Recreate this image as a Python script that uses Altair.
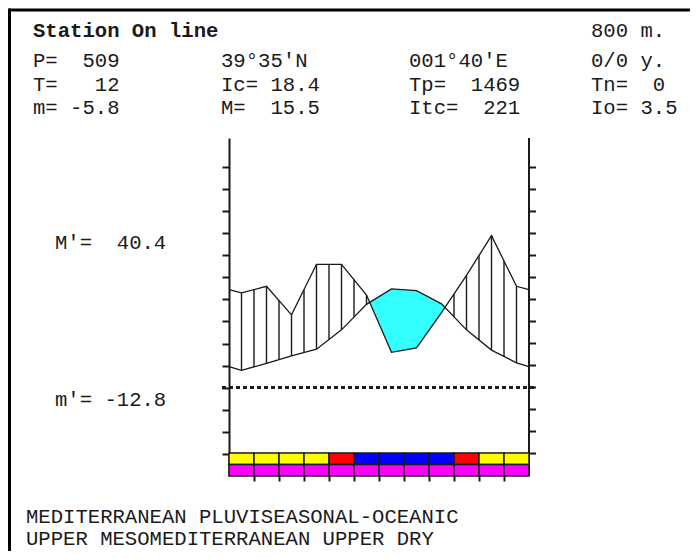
import altair as alt
import pandas as pd

# ---------------- data ----------------
months = ["Jan", "Feb", "Mar", "Apr", "May", "Jun", "Jul", "Aug", "Sep", "Oct", "Nov", "Dec"]
temp_c = [3.9, 5.5, 7.2, 8.7, 13.1, 18.9, 22.4, 22.0, 19.0, 13.1, 8.5, 5.6]
precip_mm = [43, 46, 33, 56, 56, 42, 16, 18, 34, 51, 69, 46]
upper_band = ["Y", "Y", "Y", "Y", "R", "B", "B", "B", "B", "R", "Y", "Y"]
lower_band = ["M"] * 12
band_classes = ["Y", "R", "B", "M"]
tick_values = list(range(-15, 55, 5))
month_edges = list(range(1, 12))

title_text = "Station On line"
header_rows = [
    ["", "", "", "800 m."],
    ["P=  509", "39°35'N", "001°40'E", "0/0 y."],
    ["T=   12", "Ic= 18.4", "Tp=  1469", "Tn=  0"],
    ["m= -5.8", "M=  15.5", "Itc=  221", "Io= 3.5"],
]
side_labels = ["M'=  40.4", "m'= -12.8"]
footer_lines = ["MEDITERRANEAN PLUVISEASONAL-OCEANIC", "UPPER MESOMEDITERRANEAN UPPER DRY"]

# ---------------- derived tables ----------------
p_half = [p / 2 for p in precip_mm]
edge_t = (temp_c[-1] + temp_c[0]) / 2
edge_p = (p_half[-1] + p_half[0]) / 2
cx = [0.0] + [i + 0.5 for i in range(12)] + [12.0]
ct = [edge_t] + temp_c + [edge_t]
cp = [edge_p] + p_half + [edge_p]
curves = pd.DataFrame({"x": cx, "T": ct, "P": cp})

# half-month hatch lines in the humid period
hatch = []
for k in range(1, 24):
    xv = k / 2
    if k % 2 == 1:
        i = (k - 1) // 2
        tv, pv = temp_c[i], p_half[i]
    else:
        i = k // 2
        tv = (temp_c[i - 1] + temp_c[i]) / 2
        pv = (p_half[i - 1] + p_half[i]) / 2
    if pv > tv:
        hatch.append({"x": xv, "T": tv, "P": pv})
hatch = pd.DataFrame(hatch)

# dry period polygon(s)
dry = []
seg = 0
inside = False
for j in range(len(cx)):
    d = cp[j] - ct[j]
    if j > 0:
        d0 = cp[j - 1] - ct[j - 1]
        if (d0 >= 0) != (d >= 0):
            t = d0 / (d0 - d)
            xc = cx[j - 1] + t * (cx[j] - cx[j - 1])
            yc = ct[j - 1] + t * (ct[j] - ct[j - 1])
            dry.append({"x": xc, "T": yc, "P": yc, "seg": seg})
            if inside:
                seg += 1
            inside = not inside
    if d < 0:
        dry.append({"x": cx[j], "T": ct[j], "P": cp[j], "seg": seg})
dry = pd.DataFrame(dry)

bands = pd.DataFrame({
    "x0": list(range(12)),
    "x1": list(range(1, 13)),
    "up": upper_band,
    "low": lower_band,
})
ticks = pd.DataFrame({"v": tick_values})

# ---------------- scales / axes ----------------
xs = alt.Scale(domain=[0, 12], nice=False, zero=False)
ys = alt.Scale(domain=[-20.11, 56.7], nice=False, zero=False)
ink = "#1a1a1a"
xaxis = alt.Axis(values=month_edges, labels=False, title=None, grid=False, domain=False,
                 tickSize=5, tickWidth=2, tickColor=ink, orient="bottom")
yaxis = alt.Axis(values=tick_values, labels=False, title=None, grid=False, domain=True,
                 domainColor=ink, domainWidth=2, tickSize=7, tickWidth=2, tickColor=ink,
                 orient="left")
band_scale = alt.Scale(domain=band_classes, range=["#ffff00", "#ff0000", "#0000ff", "#ff00ff"])

X = lambda f: alt.X(f, type="quantitative", scale=xs, axis=xaxis)
Y = lambda f: alt.Y(f, type="quantitative", scale=ys, axis=yaxis)

area = alt.Chart(dry).mark_area(color="#33ffff", opacity=1).encode(
    x=X("x"), y=Y("T"), y2="P", detail="seg:N"
)
hatch_l = alt.Chart(hatch).mark_rule(color=ink, strokeWidth=1.4).encode(
    x=X("x"), y=Y("T"), y2="P"
)
t_line = alt.Chart(curves).mark_line(color=ink, strokeWidth=1.3).encode(x=X("x"), y=Y("T"))
p_line = alt.Chart(curves).mark_line(color=ink, strokeWidth=1.3).encode(x=X("x"), y=Y("P"))

zero = alt.Chart(ticks).mark_rule(color=ink, strokeWidth=1.5, strokeDash=[4, 3]).encode(
    y=alt.Y(datum=0, scale=ys, axis=yaxis), x=alt.value(-7), x2=alt.value(307)
)
right_dom = alt.Chart(ticks).mark_rule(color=ink, strokeWidth=2).encode(
    x=alt.value(300), y=alt.value(0), y2=alt.value(338)
)
right_ticks = alt.Chart(ticks).mark_rule(color=ink, strokeWidth=2).encode(
    y=Y("v"), x=alt.value(300), x2=alt.value(307)
)
band_up = alt.Chart(bands).mark_rect(stroke=ink, strokeWidth=1.5).encode(
    x=X("x0"), x2="x1", y=alt.value(315), y2=alt.value(326.5),
    color=alt.Color("up:N", scale=band_scale, legend=None)
)
band_low = alt.Chart(bands).mark_rect(stroke=ink, strokeWidth=1.5).encode(
    x=X("x0"), x2="x1", y=alt.value(326.5), y2=alt.value(338),
    color=alt.Color("low:N", scale=band_scale, legend=None)
)

# frame lines (page coords minus plot origin 229,138)
one = alt.Data(values=[{}])
frame_top = alt.Chart(one).mark_rule(color="black", strokeWidth=3).encode(
    x=alt.value(-220), x2=alt.value(470), y=alt.value(-128)
)
frame_left = alt.Chart(one).mark_rule(color="black", strokeWidth=3).encode(
    x=alt.value(-219.5), y=alt.value(-129.5), y2=alt.value(420)
)

font = "Liberation Mono"
fs = 20.6
NBSP = "\u00a0"


def label(txt, px, py, bold=False):
    return alt.Chart(one).mark_text(
        font=font, fontSize=fs, align="left", baseline="middle", color=ink,
        fontWeight="bold" if bold else "normal"
    ).encode(x=alt.value(px - 229), y=alt.value(py - 138),
             text=alt.value(txt.replace(" ", NBSP)))


col_x = [33, 221, 409, 591]
row_y = [31, 61, 85, 108]
texts = [label(title_text, col_x[0], row_y[0], bold=True)]
for r, row in enumerate(header_rows):
    for c, s in enumerate(row):
        if s:
            texts.append(label(s, col_x[c], row_y[r]))
texts.append(label(side_labels[0], 55, 243))
texts.append(label(side_labels[1], 55, 400))
texts.append(label(footer_lines[0], 26, 517))
texts.append(label(footer_lines[1], 26, 539))

chart = alt.layer(
    area, hatch_l, t_line, p_line, zero, right_dom, right_ticks, band_up, band_low,
    frame_top, frame_left, *texts
).properties(
    width=300, height=338,
    autosize=alt.AutoSizeParams(type="none"),
    padding={"left": 221, "top": 130, "right": 161, "bottom": 75},
).configure_view(stroke=None)

chart.save("out.html", embed_options={"renderer": "svg", "actions": False})
